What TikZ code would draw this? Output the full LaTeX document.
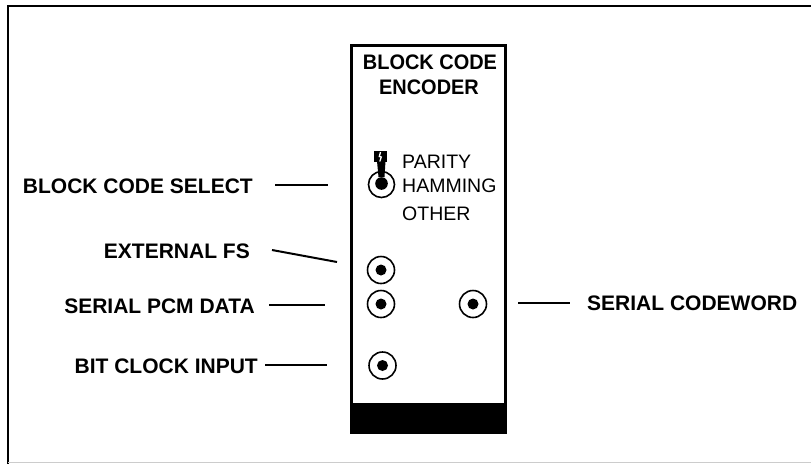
\documentclass[tikz,border=0pt]{standalone}
\usepackage{fontspec}
\setmainfont{Liberation Sans}
\begin{document}
\begin{tikzpicture}[x=1pt,y=-1pt,
  lbl/.style={inner sep=0pt,font=\fontsize{21}{21}\selectfont\bfseries},
  swtxt/.style={inner sep=0pt,anchor=base west,font=\fontsize{19.5}{19.5}\selectfont},
  ttl/.style={inner sep=0pt,anchor=base,xscale=0.95,font=\fontsize{21}{21}\selectfont\bfseries},
  lead/.style={line width=2pt},
  ring/.style={circle,draw,line width=1.6pt,minimum size=27pt,inner sep=0pt},
  jack/.style={ring,path picture={\fill (path picture bounding box.center) circle (5.5pt);}}]
\useasboundingbox (0,0) rectangle (811,464);
% sheet edges
\draw[line width=2pt] (811,6) -- (8,6) -- (8,464);
\draw[line width=1pt,black!20] (8,462.5) -- (811,462.5);
% module panel
\fill (350,403) rectangle (507,434);
\draw[line width=3.2pt] (351.6,45.6) rectangle (505.4,432.4);
\node[ttl] (t1) at (430,69.5) {BLOCK CODE};
\node[ttl] (t2) at (429,94.5) {ENCODER};
% code select toggle switch
\node[ring,minimum size=26pt] (sw) at (381.5,184.5) {};
\fill (374,151) rectangle (386.5,161.5);
\fill (377,161) -- (385.5,161) -- (384.5,177) -- (378.5,177) -- cycle;
\fill (381.5,183.5) circle (6.3pt);
\draw[white,line width=1.3pt] (380.5,152) -- (379.3,156.5) -- (381.3,157) -- (379.8,161.5);
\node[swtxt] (p1) at (402,168) {PARITY};
\node[swtxt] (p2) at (402,192) {HAMMING};
\node[swtxt] (p3) at (402,220) {OTHER};
% sockets
\node[jack] (efs) at (381,270) {};
\node[jack] (pcm) at (381,304) {};
\node[jack] (cw)  at (473,304) {};
\node[jack] (clk) at (382.5,365.5) {};
% labels
\node[lbl,anchor=base east] (lsel) at (253,193) {BLOCK CODE SELECT};
\node[lbl,anchor=base east] (lefs) at (250,258) {EXTERNAL FS};
\node[lbl,anchor=base east] (lpcm) at (255,313) {SERIAL PCM DATA};
\node[lbl,anchor=base east] (lclk) at (258,373) {BIT CLOCK INPUT};
\node[lbl,anchor=base west] (lcw)  at (587,310) {SERIAL CODEWORD};
% leader lines
\coordinate (a1) at (275,184.5);  \coordinate (a2) at (328,184.5);
\coordinate (b1) at (272,250);    \coordinate (b2) at (337,262);
\coordinate (c1) at (269,305);    \coordinate (c2) at (325,305);
\coordinate (d1) at (265,364.5);  \coordinate (d2) at (327,364.5);
\coordinate (e1) at (518,302.5);  \coordinate (e2) at (570,302.5);
\draw[lead] (a1) -- (a2);
\draw[lead] (b1) -- (b2);
\draw[lead] (c1) -- (c2);
\draw[lead] (d1) -- (d2);
\draw[lead] (e1) -- (e2);
\end{tikzpicture}
\end{document}
